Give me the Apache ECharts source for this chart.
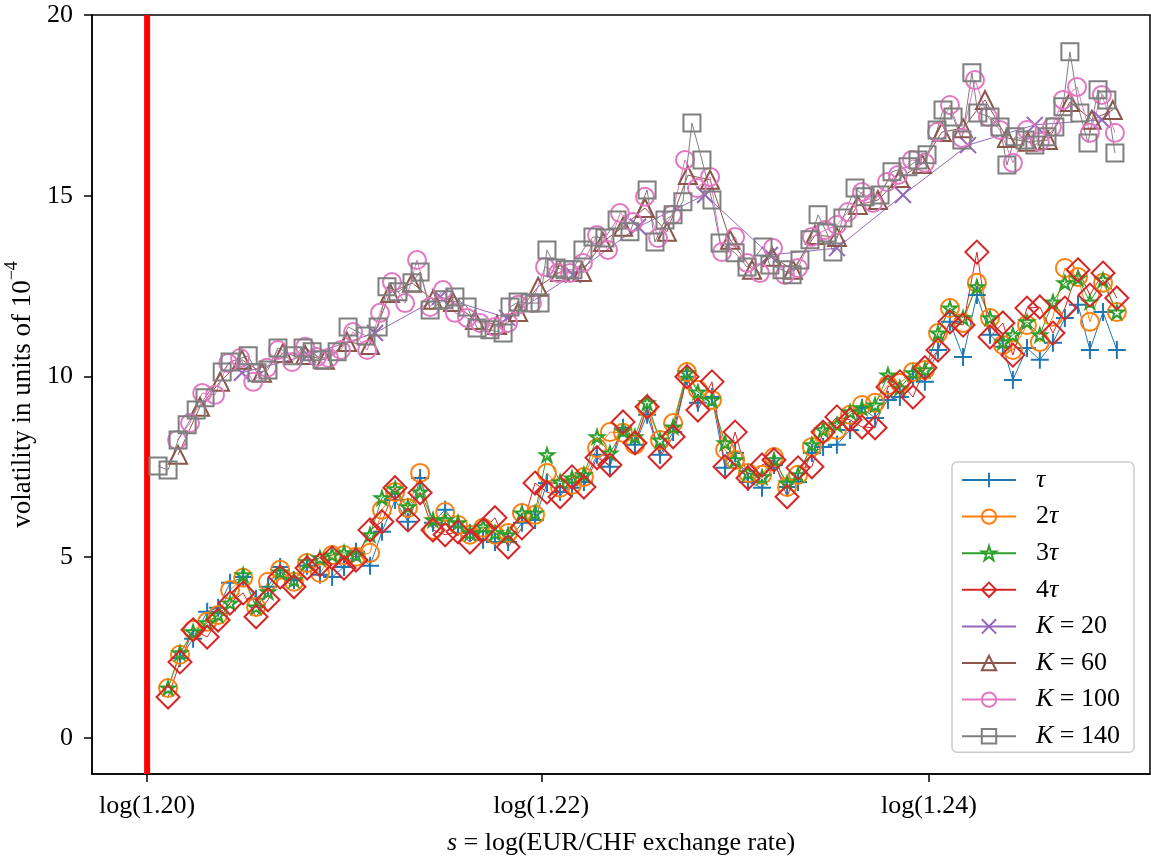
<!DOCTYPE html>
<html>
<head>
<meta charset="utf-8">
<title>Volatility vs. EUR/CHF</title>
<script src="https://cdn.jsdelivr.net/npm/echarts@6/dist/echarts.min.js"></script>
<style>
  html, body { margin: 0; padding: 0; background: #ffffff; }
  #chart { width: 1151px; height: 859px; }
</style>
</head>
<body>
<div id="chart"></div>
<script>
// Exchange-rate floor, drawn as a vertical line at s = log(1.20)
const floorRate = 1.20;
// x tick positions, given as exchange rates (axis shows log of the rate)
const xTickRates = [1.20, 1.22, 1.24];
const yTickValues = [0, 5, 10, 15, 20];
const yRange = [-1, 20];

// ---- time-scale estimators: shared bin centres s = log(rate) ----
const sLow = [0.18320, 0.18370, 0.18425, 0.18484, 0.18530, 0.18580, 0.18635, 0.18689, 0.18739, 0.18790,
  0.18848, 0.18903, 0.18957, 0.19008, 0.19058, 0.19108, 0.19167, 0.19217, 0.19272, 0.19326,
  0.19377, 0.19431, 0.19482, 0.19536, 0.19586, 0.19641, 0.19691, 0.19746, 0.19804, 0.19859,
  0.19909, 0.19964, 0.20014, 0.20064, 0.20119, 0.20173, 0.20228, 0.20278, 0.20329, 0.20383,
  0.20438, 0.20496, 0.20542, 0.20601, 0.20656, 0.20698, 0.20752, 0.20811, 0.20861, 0.20916,
  0.20962, 0.21020, 0.21067, 0.21125, 0.21180, 0.21230, 0.21285, 0.21339, 0.21389, 0.21444,
  0.21494, 0.21549, 0.21599, 0.21654, 0.21712, 0.21767, 0.21821, 0.21863, 0.21922, 0.21976,
  0.22031, 0.22081, 0.22136, 0.22186, 0.22241, 0.22299];

// tau starts one bin later than the others
const volTau = [2.21, 2.74, 3.49, 3.60, 4.29, 4.45, 3.85, 4.18, 4.73,
  4.37, 4.76, 4.51, 4.45, 4.73, 5.15, 4.76, 5.70, 6.58, 5.98,
  7.19, 5.95, 6.31, 5.84, 5.67, 5.48, 5.42, 5.42, 5.95, 6.03,
  7.05, 6.80, 6.92, 7.08, 7.83, 7.50, 8.58, 8.11, 8.94, 7.83,
  8.46, 9.99, 9.27, 9.43, 7.47, 7.88, 7.08, 6.92, 7.55, 6.94,
  7.08, 7.88, 8.05, 8.11, 8.52, 9.13, 8.85, 9.35, 9.43, 9.99,
  9.85, 10.73, 11.51, 10.54, 12.25, 11.15, 10.82, 9.90, 10.79, 10.46,
  10.93, 11.62, 11.98, 10.73, 11.78, 10.73];

const vol2Tau = [1.38, 2.30, 2.99, 3.21, 3.40, 4.09, 4.43, 3.62, 4.32, 4.65,
  4.32, 4.84, 4.56, 5.06, 5.06, 5.01, 5.12, 6.31, 6.80, 6.36,
  7.33, 5.75, 6.25, 5.89, 5.62, 5.81, 5.62, 5.67, 6.22, 6.17,
  7.33, 6.92, 7.00, 7.22, 8.02, 8.46, 8.44, 8.11, 9.13, 8.24,
  8.71, 10.12, 9.63, 9.35, 7.97, 7.69, 7.33, 7.28, 7.77, 6.94,
  7.28, 8.05, 8.44, 8.52, 8.94, 9.21, 9.27, 9.76, 9.82, 10.12,
  10.18, 11.20, 11.89, 11.48, 12.59, 11.62, 10.87, 10.73, 11.42, 10.95,
  11.65, 13.00, 12.75, 11.51, 12.59, 11.78];

const vol3Tau = [1.38, 2.35, 2.93, 3.18, 3.40, 3.73, 4.51, 3.62, 4.04, 4.59,
  4.37, 4.87, 4.98, 5.06, 5.12, 5.06, 5.62, 6.64, 6.89, 6.39,
  6.80, 6.03, 6.03, 5.95, 5.67, 5.84, 5.67, 5.62, 6.22, 6.22,
  7.83, 7.08, 7.19, 7.28, 8.33, 7.88, 8.49, 8.33, 9.27, 8.24,
  8.60, 10.10, 9.57, 9.35, 8.16, 7.69, 7.33, 7.22, 7.69, 7.05,
  7.28, 8.11, 8.52, 8.66, 9.02, 9.13, 9.21, 10.04, 9.68, 10.10,
  10.18, 11.20, 11.89, 11.62, 12.48, 11.62, 10.95, 11.15, 11.51, 11.15,
  12.06, 12.59, 12.72, 12.06, 12.67, 11.78];

const vol4Tau = [1.13, 2.10, 2.99, 2.79, 3.26, 3.73, 4.01, 3.35, 3.82, 4.45,
  4.18, 4.70, 4.79, 4.98, 4.70, 4.92, 5.75, 5.98, 6.92, 6.03,
  6.78, 5.75, 5.62, 5.70, 5.42, 5.75, 6.09, 5.28, 5.81, 7.05,
  6.80, 6.67, 7.22, 6.94, 7.75, 7.55, 8.74, 8.16, 9.16, 7.77,
  8.33, 9.99, 9.07, 9.85, 7.50, 8.46, 7.19, 7.55, 7.69, 6.67,
  7.47, 7.50, 8.46, 8.88, 8.80, 8.60, 8.58, 9.71, 9.85, 9.43,
  10.24, 10.73, 11.51, 11.42, 13.44, 11.09, 11.48, 10.59, 11.89, 11.92,
  11.20, 11.89, 12.95, 12.25, 12.86, 12.17];

// ---- K-point estimators: each with its own bin centres ----
const sK20 = [0.18630, 0.18907, 0.19188, 0.19461, 0.19742, 0.20018, 0.20291,
  0.20572, 0.20844, 0.21125, 0.21402, 0.21675, 0.21955, 0.22236];
const volK20 = [10.10, 10.59, 11.20, 12.20, 11.62, 12.81, 14.14,
  15.02, 13.36, 13.55, 15.02, 16.40, 16.96, 17.10];

const sK60 = [0.18362, 0.18454, 0.18538, 0.18630, 0.18714, 0.18802, 0.18895, 0.18978, 0.19071, 0.19167,
  0.19251, 0.19343, 0.19431, 0.19515, 0.19607, 0.19700, 0.19788, 0.19872, 0.19964, 0.20056,
  0.20144, 0.20228, 0.20320, 0.20412, 0.20500, 0.20593, 0.20677, 0.20769, 0.20853, 0.20941,
  0.21033, 0.21125, 0.21213, 0.21297, 0.21389, 0.21482, 0.21565, 0.21654, 0.21746, 0.21838,
  0.21926, 0.22010, 0.22102, 0.22194, 0.22282];
const volK60 = [7.83, 9.16, 9.85, 10.46, 10.10, 10.65, 10.59, 10.46, 10.95, 10.87,
  12.31, 12.59, 12.12, 12.06, 11.56, 11.42, 11.78, 12.48, 12.89, 12.89,
  13.72, 14.14, 14.66, 14.00, 15.57, 15.44, 13.78, 12.95, 13.31, 12.95,
  13.91, 13.86, 14.74, 14.88, 15.49, 15.88, 16.76, 16.87, 17.65, 16.60,
  16.49, 16.54, 17.59, 17.10, 17.37];

const sK100 = [0.18358, 0.18412, 0.18463, 0.18517, 0.18572, 0.18622, 0.18677, 0.18735, 0.18781, 0.18840,
  0.18895, 0.18945, 0.18995, 0.19045, 0.19096, 0.19155, 0.19209, 0.19259, 0.19314, 0.19364,
  0.19419, 0.19473, 0.19523, 0.19574, 0.19628, 0.19691, 0.19746, 0.19788, 0.19846, 0.19901,
  0.19955, 0.20006, 0.20060, 0.20119, 0.20165, 0.20215, 0.20270, 0.20320, 0.20375, 0.20433,
  0.20488, 0.20538, 0.20593, 0.20643, 0.20698, 0.20748, 0.20802, 0.20857, 0.20907, 0.20962,
  0.21020, 0.21075, 0.21125, 0.21171, 0.21230, 0.21276, 0.21335, 0.21381, 0.21440, 0.21494,
  0.21545, 0.21599, 0.21649, 0.21704, 0.21758, 0.21809, 0.21863, 0.21922, 0.21976, 0.22027,
  0.22073, 0.22132, 0.22186, 0.22236, 0.22291];
const volK100 = [8.24, 8.71, 9.54, 9.49, 10.37, 10.51, 9.85, 10.24, 10.73, 10.40,
  10.82, 10.54, 10.51, 10.73, 11.23, 10.73, 11.76, 12.61, 12.03, 13.22,
  11.92, 12.39, 11.76, 11.62, 11.48, 11.37, 11.48, 11.98, 12.03, 13.03,
  12.86, 12.86, 13.14, 13.91, 13.50, 14.52, 14.27, 14.97, 13.83, 14.47,
  15.99, 15.21, 15.52, 13.44, 13.86, 13.14, 12.86, 13.55, 12.81, 13.00,
  13.86, 14.05, 14.19, 14.55, 15.10, 14.80, 15.38, 15.57, 15.99, 15.91,
  16.76, 17.51, 16.60, 18.20, 17.18, 16.82, 15.91, 16.82, 16.49, 16.90,
  17.65, 18.01, 16.74, 17.79, 16.74];

const sK140 = [0.18278, 0.18320, 0.18362, 0.18400, 0.18438, 0.18475, 0.18547, 0.18580, 0.18656, 0.18693,
  0.18739, 0.18781, 0.18844, 0.18886, 0.18924, 0.18966, 0.19029, 0.19075, 0.19150, 0.19201,
  0.19238, 0.19284, 0.19343, 0.19377, 0.19419, 0.19477, 0.19523, 0.19574, 0.19616, 0.19670,
  0.19725, 0.19754, 0.19788, 0.19838, 0.19880, 0.19909, 0.19947, 0.19985, 0.20018, 0.20060,
  0.20102, 0.20152, 0.20203, 0.20257, 0.20329, 0.20362, 0.20404, 0.20438, 0.20479, 0.20517,
  0.20559, 0.20601, 0.20635, 0.20698, 0.20748, 0.20815, 0.20844, 0.20895, 0.20937, 0.20970,
  0.21012, 0.21046, 0.21083, 0.21108, 0.21150, 0.21201, 0.21243, 0.21306, 0.21356, 0.21423,
  0.21465, 0.21503, 0.21545, 0.21570, 0.21612, 0.21649, 0.21691, 0.21716, 0.21767, 0.21809,
  0.21838, 0.21872, 0.21914, 0.21955, 0.22006, 0.22039, 0.22073, 0.22102, 0.22144, 0.22178,
  0.22220, 0.22257, 0.22291];
const volK140 = [7.52, 7.41, 8.24, 8.66, 9.07, 9.41, 10.12, 10.40, 10.57, 10.10,
  10.18, 10.79, 10.57, 10.79, 10.68, 10.46, 10.68, 11.37, 11.12, 11.37,
  12.48, 12.34, 12.59, 12.89, 11.84, 12.12, 12.20, 11.92, 11.34, 11.29,
  11.20, 11.92, 12.06, 12.03, 12.03, 13.50, 13.00, 12.95, 12.95, 13.50,
  13.86, 13.83, 14.33, 14.00, 15.16, 13.72, 14.33, 14.47, 14.83, 17.01,
  15.99, 14.88, 13.69, 13.42, 13.03, 13.58, 13.08, 12.95, 12.81, 13.22,
  13.78, 14.47, 13.97, 13.44, 14.38, 15.21, 14.97, 15.02, 15.66, 15.80,
  15.99, 16.13, 16.82, 17.37, 17.18, 16.54, 18.40, 17.29, 17.18, 16.90,
  15.85, 16.63, 16.54, 16.40, 16.63, 16.90, 17.46, 18.98, 17.29, 16.46,
  17.93, 17.65, 16.18];

const seriesNames = ['τ', '2τ', '3τ', '4τ', 'K = 20', 'K = 60', 'K = 100', 'K = 140'];

// ---- styling ----
const FONT = '"Liberation Serif", "DejaVu Serif", serif';
const C = {
  blue: '#1f77b4', orange: '#ff7f0e', green: '#2ca02c', red: '#d62728',
  purple: '#9467bd', brown: '#8c564b', pink: '#e377c2', gray: '#7f7f7f'
};
const SYM_PLUS = 'path://M5,0L5,10M0,5L10,5';
const SYM_CROSS = 'path://M0,0L10,10M10,0L0,10';
const SYM_STAR = 'path://M0,-100L22,-31L95,-31L36,12L59,81L0,38L-59,81L-36,12L-95,-31L-22,-31Z';

function lineSeries(name, xs, ys, color, symbol, size, hollow) {
  return {
    name: name,
    type: 'line',
    data: xs.map(function (x, i) { return [x, ys[i]]; }),
    symbol: symbol,
    symbolSize: size,
    symbolKeepAspect: true,
    showSymbol: true,
    showAllSymbol: true,
    lineStyle: { color: color, width: 1 },
    itemStyle: {
      color: hollow ? 'rgba(255,255,255,0)' : color,
      borderColor: color,
      borderWidth: 2
    },
    emphasis: { disabled: true },
    animation: false
  };
}

const chart = echarts.init(document.getElementById('chart'), null, { renderer: 'canvas' });

const floorS = Math.log(floorRate);

const option = {
  animation: false,
  backgroundColor: '#ffffff',
  grid: {
    left: 92, right: 1, top: 15, bottom: 85,
    show: true, borderColor: '#000000', borderWidth: 1.5,
    backgroundColor: 'rgba(0,0,0,0)',
    containLabel: false, outerBoundsMode: 'none'
  },
  xAxis: {
    type: 'value',
    min: 0.18001,
    max: 0.22438,
    name: '{i|s} = log(EUR/CHF exchange rate)',
    nameLocation: 'middle',
    nameGap: 56,
    nameTextStyle: {
      fontFamily: FONT, fontSize: 26, color: '#000000',
      rich: { i: { fontFamily: FONT, fontSize: 26, fontStyle: 'italic', color: '#000000' } }
    },
    axisLine: { show: true, onZero: false, lineStyle: { color: '#000000', width: 1.5 } },
    axisTick: {
      show: true, length: 8, inside: false,
      customValues: xTickRates.map(function (r) { return Math.log(r); }),
      lineStyle: { color: '#000000', width: 1.5 }
    },
    axisLabel: {
      show: true, margin: 19,
      customValues: xTickRates.map(function (r) { return Math.log(r); }),
      formatter: function (v) { return 'log(' + Math.exp(v).toFixed(2) + ')'; },
      fontFamily: FONT, fontSize: 26, color: '#000000'
    },
    splitLine: { show: false }
  },
  yAxis: {
    type: 'value',
    min: yRange[0],
    max: yRange[1],
    name: 'volatility in units of 10{sup|−4}',
    nameLocation: 'middle',
    nameRotate: 90,
    nameGap: 50,
    nameTextStyle: {
      fontFamily: FONT, fontSize: 27, color: '#000000',
      rich: { sup: { fontFamily: FONT, fontSize: 18, color: '#000000', padding: [0, 0, 20, 0] } }
    },
    axisLine: { show: true, onZero: false, lineStyle: { color: '#000000', width: 1.5 } },
    axisTick: {
      show: true, length: 8, inside: false,
      customValues: yTickValues,
      lineStyle: { color: '#000000', width: 1.5 }
    },
    axisLabel: {
      show: true, margin: 19,
      customValues: yTickValues,
      fontFamily: FONT, fontSize: 26, color: '#000000'
    },
    splitLine: { show: false }
  },
  legend: {
    data: seriesNames,
    orient: 'vertical',
    left: 952,
    top: 462,
    padding: [5, 14, 3, 9],
    itemWidth: 54,
    itemHeight: 18,
    itemGap: 10.6,
    selectedMode: false,
    backgroundColor: 'rgba(255,255,255,0.85)',
    borderColor: '#cccccc',
    borderWidth: 1.5,
    borderRadius: 5,
    z: 10,
    formatter: function (name) {
      return name.replace(/τ/g, '{i|τ}').replace(/^K/, '{i|K}');
    },
    textStyle: {
      fontFamily: FONT, fontSize: 26, color: '#000000', lineHeight: 26,
      padding: [0, 0, 0, 15],
      rich: { i: { fontFamily: FONT, fontSize: 26, fontStyle: 'italic', color: '#000000', lineHeight: 26 } }
    }
  },
  series: [
    // vertical marker at the exchange-rate floor
    {
      name: 'floor',
      type: 'line',
      data: [[floorS, yRange[0]], [floorS, yRange[1]]],
      symbol: 'none',
      silent: true,
      lineStyle: { color: '#ff0000', width: 6 },
      itemStyle: { color: '#ff0000' },
      emphasis: { disabled: true },
      animation: false,
      z: 3
    },
    lineSeries(seriesNames[0], sLow.slice(1), volTau, C.blue, SYM_PLUS, 18, false),
    lineSeries(seriesNames[1], sLow, vol2Tau, C.orange, 'circle', 18, true),
    lineSeries(seriesNames[2], sLow, vol3Tau, C.green, SYM_STAR, 14, true),
    lineSeries(seriesNames[3], sLow, vol4Tau, C.red, 'diamond', 23, true),
    lineSeries(seriesNames[4], sK20, volK20, C.purple, SYM_CROSS, 16, false),
    lineSeries(seriesNames[5], sK60, volK60, C.brown, 'triangle', 18, true),
    lineSeries(seriesNames[6], sK100, volK100, C.pink, 'circle', 18, true),
    lineSeries(seriesNames[7], sK140, volK140, C.gray, 'rect', 17, true)
  ]
};

chart.setOption(option);
</script>
</body>
</html>
